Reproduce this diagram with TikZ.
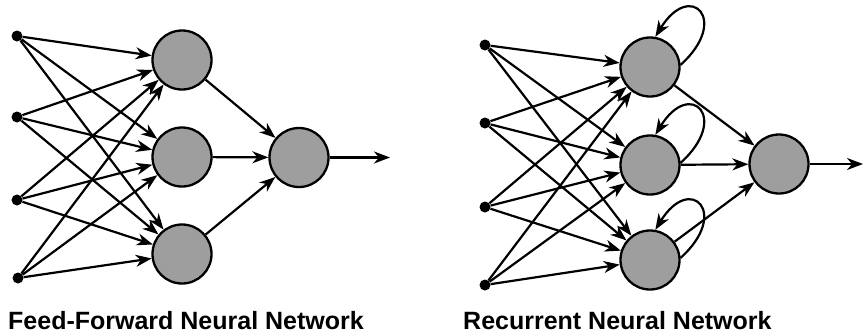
\documentclass[tikz,border=0pt]{standalone}
\usepackage{fontspec}
\setmainfont{Liberation Sans}
\usetikzlibrary{arrows.meta,calc}
\definecolor{nodefill}{RGB}{158,158,158}
\tikzset{
  neuron/.style={circle,draw=black,line width=2.3pt,fill=nodefill,minimum size=59pt,inner sep=0pt},
  inputdot/.style={circle,fill=black,minimum size=11pt,inner sep=0pt},
  conn/.style={line width=2.2pt,-{Stealth[length=16pt,width=12pt,inset=5pt]}},
  title/.style={anchor=base west,inner sep=0pt,font=\bfseries\fontsize{25}{30}\selectfont}
}
\begin{document}
\begin{tikzpicture}[x=1pt,y=-1pt]
\useasboundingbox (0,0) rectangle (864,335);
% ---------- Feed-forward ----------
\node[inputdot] (a1) at (17,36) {};
\node[inputdot] (a2) at (17,117) {};
\node[inputdot] (a3) at (17,200) {};
\node[inputdot] (a4) at (18,278) {};
\node[neuron] (ah1) at (182,60) {};
\node[neuron] (ah2) at (182,157) {};
\node[neuron] (ah3) at (182,254) {};
\node[neuron] (ao) at (299,157.5) {};
\coordinate (aend) at (390,157.5);
\foreach \i in {1,2,3,4}{
  \foreach \j in {1,2,3}{
    \draw[conn] (a\i) -- (ah\j);
  }
}
\foreach \j in {1,2,3}{\draw[conn] (ah\j) -- (ao);}
\draw[conn] (ao) -- (aend);
\node[title] (ta) at (8,329) {Feed-Forward Neural Network};
% ---------- Recurrent ----------
\node[inputdot] (b1) at (485,45) {};
\node[inputdot] (b2) at (485,123) {};
\node[inputdot] (b3) at (485,207) {};
\node[inputdot] (b4) at (485,285) {};
\node[neuron] (bh1) at (650,67) {};
\node[neuron] (bh2) at (650,165) {};
\node[neuron] (bh3) at (650,260) {};
\node[neuron] (bo) at (779,164) {};
\coordinate (bend) at (863,164);
\foreach \i in {1,2,3,4}{
  \foreach \j in {1,2,3}{
    \draw[conn] (b\i) -- (bh\j);
  }
}
\foreach \j in {1,2,3}{
  \draw[conn] (bh\j) -- (bo);
  \draw[conn] (bh\j.4) .. controls +(50,-45) and +(35,-57) .. (bh\j.80);
}
\draw[conn] (bo) -- (bend);
\node[title] (tb) at (463,329) {Recurrent Neural Network};
\end{tikzpicture}
\end{document}
